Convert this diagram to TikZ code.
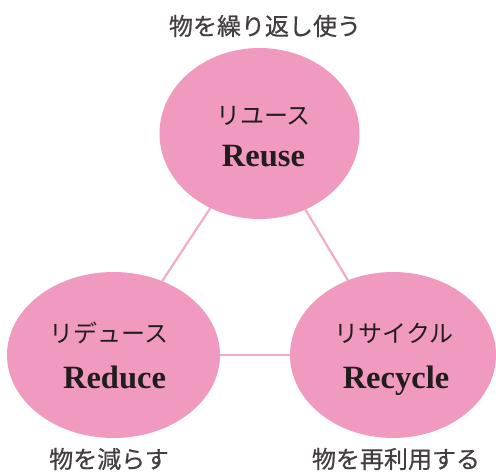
\documentclass[tikz,border=0pt]{standalone}
\usepackage{fontspec}
\setmainfont{Liberation Serif}
\newfontfamily\jpfont{Noto Sans CJK JP}
\newfontfamily\jpheavy{Noto Sans CJK JP}[FakeBold=0.6]
\usetikzlibrary{shapes.geometric}
\definecolor{rpink}{RGB}{241,154,192}
\definecolor{rline}{RGB}{242,172,202}
\definecolor{rtext}{RGB}{35,28,30}
\tikzset{
  blob/.style={ellipse,fill=rpink,inner sep=0pt},
  jptext/.style={font=\jpfont\fontsize{24}{28}\selectfont,text=rtext},
  saytext/.style={font=\jpheavy\fontsize{24}{28}\selectfont,text=rtext!85!white},
  entext/.style={font=\bfseries\fontsize{32.5}{36}\selectfont,text=rtext,anchor=base},
  link/.style={rline,line width=2.2pt}
}
\begin{document}
\begin{tikzpicture}[x=1pt,y=1pt]
  \useasboundingbox (0,0) rectangle (496,472);
  % the three circles
  \node[blob,minimum width=200pt,minimum height=171pt] (reuse) at (259.5,338.5) {};
  \node[blob,minimum width=213pt,minimum height=166pt] (reduce) at (113.5,117) {};
  \node[blob,minimum width=206pt,minimum height=166pt] (recycle) at (393,117) {};
  \draw[link] (reuse) -- (reduce);
  \draw[link] (reuse) -- (recycle);
  \draw[link] (reduce) -- (recycle);
  % texts inside
  \node[jptext] (reuse-jp) at (263.5,356) {リユース};
  \node[entext] (reuse-en) at (263.5,305) {Reuse};
  \node[jptext] (reduce-jp) at (109,139) {リデュース};
  \node[entext] (reduce-en) at (114.5,84) {Reduce};
  \node[jptext] (recycle-jp) at (394,139) {リサイクル};
  \node[entext] (recycle-en) at (396,84) {Recycle};
  % texts outside
  \node[saytext] (reuse-say) at (265,446) {物を繰り返し使う};
  \node[saytext] (reduce-say) at (109,13) {物を減らす};
  \node[saytext] (recycle-say) at (396,13) {物を再利用する};
\end{tikzpicture}
\end{document}
